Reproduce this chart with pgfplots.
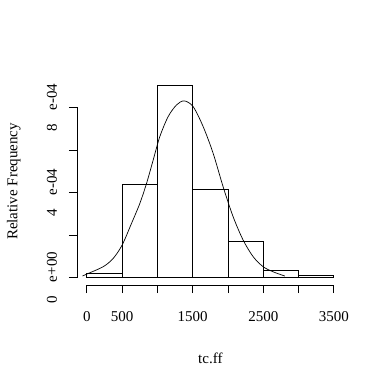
\documentclass[border=0pt]{standalone}
\usepackage{fontspec}
\setmainfont{Liberation Serif}
\usepackage{pgfplots}
\pgfplotsset{compat=1.18}
\begin{document}
\begin{tikzpicture}[x=1pt,y=1pt]
\useasboundingbox (0,0) rectangle (384,383);
\begin{axis}[at={(77pt,97.8pt)}, anchor=south west, scale only axis,
  width=266.7pt, height=207.5pt,
  xmin=-140, xmax=3640, ymin=-3.6e-5, ymax=9.4e-4,
  clip=false,
  axis lines=left, axis line style={draw=none,-},
  tick align=outside, major tick length=8pt,
  tick style={black, line width=0.8pt},
  xtick={0,500,1000,1500,2000,2500,3000,3500},
  xticklabels={0,500,,1500,,2500,,3500},
  ytick={0,0.0002,0.0004,0.0006,0.0008},
  yticklabels={0\hspace{0.9em}e+00,,4\hspace{0.9em}e-04,,8\hspace{0.9em}e-04},
  scaled ticks=false,
  tick label style={font=\fontsize{15}{18}\selectfont, inner sep=0pt},
  xticklabel style={anchor=base},
  yticklabel style={rotate=90, anchor=base},
  xticklabel shift=28pt,
  yticklabel shift=12pt,
  xlabel={tc.ff},
  xlabel style={at={(axis description cs:0.5,0)}, anchor=base, yshift=-78pt, inner sep=0pt, font=\fontsize{15}{18}\selectfont},
  ylabel={Relative Frequency},
  ylabel style={at={(axis description cs:-0.2231,0.5)}, anchor=base, inner sep=0pt, font=\fontsize{15}{18}\selectfont},
]
\addplot[ybar interval, draw=black, fill=none, line width=0.8pt] coordinates {
  (0,0.00002) (500,0.00044) (1000,0.000904) (1500,0.000416) (2000,0.00017) (2500,0.000034) (3000,0.00001) (3500,0.00001)
};
\addplot[smooth, black, line width=0.7pt] coordinates {
  (-61,0.000007) (-4,0.000016) (231,0.000051) (373,0.000090) (500,0.000153) (633,0.000255) (751,0.000349) (846,0.000443) (940,0.000553) (1034,0.000663) (1152,0.000757) (1271,0.000812) (1379,0.000831) (1506,0.000804) (1648,0.000710) (1790,0.000584) (1931,0.000427) (2073,0.000286) (2215,0.000176) (2357,0.000098) (2498,0.000051) (2640,0.000027) (2806,0.000007)
};
\draw[line width=0.8pt] (axis cs:0,-3.6e-5) -- (axis cs:3500,-3.6e-5);
\draw[line width=0.8pt] (axis cs:-140,0) -- (axis cs:-140,0.0008);
\end{axis}
\end{tikzpicture}
\end{document}
